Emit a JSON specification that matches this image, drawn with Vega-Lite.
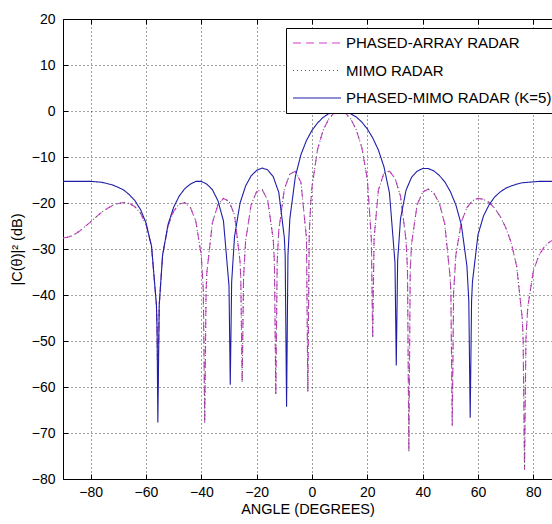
{
  "$schema": "https://vega.github.io/schema/vega-lite/v6.json",
  "width": 489,
  "height": 460,
  "autosize": {"type": "none"},
  "padding": {"left": 63, "top": 19, "right": 0, "bottom": 45},
  "background": "white",
  "config": {
    "view": {"stroke": "black", "strokeWidth": 1},
    "font": "Liberation Sans",
    "axis": {"labelFont": "Liberation Sans", "labelFontSize": 14, "labelColor": "black", "titleFont": "Liberation Sans", "titleFontSize": 14.5, "titleFontWeight": "normal", "titleColor": "black", "gridColor": "black", "gridDash": [1, 3], "gridOpacity": 0.75, "gridWidth": 1, "tickColor": "black", "domain": false, "labelOverlap": false, "labelFlush": false}
  },
  "data": {"values": [
    {"a": -90, "pa": -27.6, "mimo": -27.6, "pm": -15.3},
    {"a": -88, "pa": -27.4, "mimo": -27.4, "pm": -15.3},
    {"a": -86, "pa": -26.9, "mimo": -26.9, "pm": -15.3},
    {"a": -84, "pa": -26.1, "mimo": -26.1, "pm": -15.3},
    {"a": -82, "pa": -25.1, "mimo": -25.1, "pm": -15.3},
    {"a": -80, "pa": -24.1, "mimo": -24.1, "pm": -15.3},
    {"a": -78, "pa": -23.0, "mimo": -23.0, "pm": -15.4},
    {"a": -76, "pa": -22.0, "mimo": -22.0, "pm": -15.5},
    {"a": -74, "pa": -21.2, "mimo": -21.2, "pm": -15.8},
    {"a": -72, "pa": -20.5, "mimo": -20.5, "pm": -16.1},
    {"a": -70, "pa": -20.1, "mimo": -20.1, "pm": -16.6},
    {"a": -68, "pa": -19.9, "mimo": -19.9, "pm": -17.2},
    {"a": -66, "pa": -20.1, "mimo": -20.1, "pm": -18.2},
    {"a": -64, "pa": -20.8, "mimo": -20.8, "pm": -19.5},
    {"a": -62, "pa": -22.2, "mimo": -22.2, "pm": -21.4},
    {"a": -60, "pa": -24.7, "mimo": -24.7, "pm": -24.3},
    {"a": -58, "pa": -29.5, "mimo": -29.5, "pm": -29.4},
    {"a": -56.22, "pa": -42.2, "mimo": -42.2, "pm": -42.2},
    {"a": -56, "pa": -47.5, "mimo": -47.5, "pm": -47.5},
    {"a": -55.72, "pa": -60.0, "mimo": -60.0, "pm": -67.7},
    {"a": -55.22, "pa": -42.2, "mimo": -42.2, "pm": -42.2},
    {"a": -54, "pa": -31.4, "mimo": -31.4, "pm": -31.3},
    {"a": -52, "pa": -24.9, "mimo": -24.9, "pm": -24.6},
    {"a": -50, "pa": -21.8, "mimo": -21.8, "pm": -20.9},
    {"a": -48, "pa": -20.2, "mimo": -20.2, "pm": -18.5},
    {"a": -46, "pa": -19.9, "mimo": -19.9, "pm": -16.9},
    {"a": -44, "pa": -20.9, "mimo": -20.9, "pm": -15.9},
    {"a": -42, "pa": -23.9, "mimo": -23.9, "pm": -15.3},
    {"a": -40, "pa": -31.5, "mimo": -31.5, "pm": -15.3},
    {"a": -39.28, "pa": -39.0, "mimo": -39.0},
    {"a": -38.78, "pa": -67.8, "mimo": -67.8},
    {"a": -38.28, "pa": -39.0, "mimo": -39.0},
    {"a": -38, "pa": -35.1, "mimo": -35.1, "pm": -15.9},
    {"a": -36, "pa": -24.3, "mimo": -24.3, "pm": -17.1},
    {"a": -34, "pa": -20.4, "mimo": -20.4, "pm": -19.5},
    {"a": -32, "pa": -19.0, "mimo": -19.0, "pm": -23.9},
    {"a": -30, "pa": -19.6, "mimo": -19.6, "pm": -38.0},
    {"a": -29.54, "pm": -59.5},
    {"a": -29.04, "pm": -37.2},
    {"a": -28, "pa": -22.6, "mimo": -22.6, "pm": -27.3},
    {"a": -26, "pa": -32.8, "mimo": -32.8, "pm": -20.0},
    {"a": -25.74, "pa": -36.3, "mimo": -36.3},
    {"a": -25.24, "pa": -59.0, "mimo": -59.0},
    {"a": -24.74, "pa": -36.3, "mimo": -36.3},
    {"a": -24, "pa": -28.3, "mimo": -28.3, "pm": -16.3},
    {"a": -22, "pa": -20.4, "mimo": -20.4, "pm": -14.1},
    {"a": -20, "pa": -17.5, "mimo": -17.5, "pm": -12.9},
    {"a": -18, "pa": -17.1, "mimo": -17.1, "pm": -12.4},
    {"a": -16, "pa": -19.4, "mimo": -19.4, "pm": -12.8},
    {"a": -14, "pa": -28.0, "mimo": -28.0, "pm": -14.3},
    {"a": -13.58, "pa": -32.9, "mimo": -32.9},
    {"a": -13.08, "pa": -61.7, "mimo": -61.7},
    {"a": -12.58, "pa": -32.9, "mimo": -32.9},
    {"a": -12, "pa": -25.9, "mimo": -25.9, "pm": -17.7},
    {"a": -10, "pa": -17.0, "mimo": -17.0, "pm": -27.5},
    {"a": -9.69, "pm": -31.4},
    {"a": -9.19, "pm": -64.3},
    {"a": -8.69, "pm": -31.4},
    {"a": -8, "pa": -13.7, "mimo": -13.7, "pm": -23.4},
    {"a": -6, "pa": -13.1, "mimo": -13.1, "pm": -14.2},
    {"a": -4, "pa": -15.5, "mimo": -15.5, "pm": -9.5},
    {"a": -2, "pa": -27.6, "mimo": -27.6, "pm": -6.4},
    {"a": -1.51, "pa": -61.0, "mimo": -61.0},
    {"a": -1.01, "pa": -27.1, "mimo": -27.1},
    {"a": -0.5, "pa": -20.3, "mimo": -20.3},
    {"a": 0, "pa": -16.5, "mimo": -16.5, "pm": -4.2},
    {"a": 2, "pa": -8.4, "mimo": -8.4, "pm": -2.6},
    {"a": 4, "pa": -4.2, "mimo": -4.2, "pm": -1.4},
    {"a": 6, "pa": -1.8, "mimo": -1.8, "pm": -0.6},
    {"a": 8, "pa": -0.4, "mimo": -0.4, "pm": -0.2},
    {"a": 10, "pa": 0, "mimo": 0, "pm": 0},
    {"a": 12, "pa": -0.4, "mimo": -0.4, "pm": -0.2},
    {"a": 14, "pa": -1.7, "mimo": -1.7, "pm": -0.6},
    {"a": 16, "pa": -4.1, "mimo": -4.1, "pm": -1.3},
    {"a": 18, "pa": -7.9, "mimo": -7.9, "pm": -2.4},
    {"a": 20, "pa": -14.8, "mimo": -14.8, "pm": -3.9},
    {"a": 21.44, "pa": -27.7, "mimo": -27.7},
    {"a": 21.94, "pa": -49.3, "mimo": -49.3},
    {"a": 22, "pa": -46.3, "mimo": -46.3, "pm": -5.9},
    {"a": 22.44, "pa": -27.7, "mimo": -27.7},
    {"a": 24, "pa": -17.2, "mimo": -17.2, "pm": -8.5},
    {"a": 26, "pa": -13.5, "mimo": -13.5, "pm": -12.1},
    {"a": 28, "pa": -13.1, "mimo": -13.1, "pm": -17.8},
    {"a": 30, "pa": -14.6, "mimo": -14.6, "pm": -33.0},
    {"a": 30.46, "pm": -55.3},
    {"a": 30.96, "pm": -32.5},
    {"a": 32, "pa": -18.5, "mimo": -18.5, "pm": -23.4},
    {"a": 34, "pa": -28.1, "mimo": -28.1, "pm": -17.2},
    {"a": 34.51, "pa": -34.4, "mimo": -34.4},
    {"a": 35.01, "pa": -74.0, "mimo": -74.0},
    {"a": 35.51, "pa": -34.4, "mimo": -34.4},
    {"a": 36, "pa": -28.8, "mimo": -28.8, "pm": -14.4},
    {"a": 38, "pa": -20.4, "mimo": -20.4, "pm": -13.1},
    {"a": 40, "pa": -17.6, "mimo": -17.6, "pm": -12.5},
    {"a": 42, "pa": -17.0, "mimo": -17.0, "pm": -12.5},
    {"a": 44, "pa": -17.8, "mimo": -17.8, "pm": -13.0},
    {"a": 46, "pa": -20.0, "mimo": -20.0, "pm": -14.0},
    {"a": 48, "pa": -24.6, "mimo": -24.6, "pm": -15.4},
    {"a": 50, "pa": -36.6, "mimo": -36.6, "pm": -17.5},
    {"a": 50.19, "pa": -39.4, "mimo": -39.4},
    {"a": 50.69, "pa": -68.5, "mimo": -68.5},
    {"a": 51.19, "pa": -39.4, "mimo": -39.4},
    {"a": 52, "pa": -31.3, "mimo": -31.3, "pm": -20.4},
    {"a": 54, "pa": -24.1, "mimo": -24.1, "pm": -24.8},
    {"a": 56, "pa": -21.0, "mimo": -21.0, "pm": -33.7},
    {"a": 56.68, "pm": -41.3},
    {"a": 57.18, "pm": -66.7},
    {"a": 57.68, "pm": -41.3},
    {"a": 58, "pa": -19.5, "mimo": -19.5, "pm": -37.1},
    {"a": 60, "pa": -19.0, "mimo": -19.0, "pm": -26.9},
    {"a": 62, "pa": -19.2, "mimo": -19.2, "pm": -22.8},
    {"a": 64, "pa": -19.9, "mimo": -19.9, "pm": -20.4},
    {"a": 66, "pa": -21.1, "mimo": -21.1, "pm": -18.7},
    {"a": 68, "pa": -22.9, "mimo": -22.9, "pm": -17.6},
    {"a": 70, "pa": -25.3, "mimo": -25.3, "pm": -16.8},
    {"a": 72, "pa": -28.6, "mimo": -28.6, "pm": -16.3},
    {"a": 74, "pa": -33.8, "mimo": -33.8, "pm": -15.9},
    {"a": 76, "pa": -45.1, "mimo": -45.1, "pm": -15.6},
    {"a": 76.32, "pa": -49.7, "mimo": -49.7},
    {"a": 76.82, "pa": -78.0, "mimo": -78.0},
    {"a": 77.32, "pa": -49.7, "mimo": -49.7},
    {"a": 78, "pa": -42.6, "mimo": -42.6, "pm": -15.5},
    {"a": 80, "pa": -34.8, "mimo": -34.8, "pm": -15.4},
    {"a": 82, "pa": -31.4, "mimo": -31.4, "pm": -15.3},
    {"a": 84, "pa": -29.5, "mimo": -29.5, "pm": -15.3},
    {"a": 86, "pa": -28.4, "mimo": -28.4, "pm": -15.3},
    {"a": 88, "pa": -27.8, "mimo": -27.8, "pm": -15.3},
    {"a": 90, "pa": -27.6, "mimo": -27.6, "pm": -15.3}
  ]},
  "layer": [
    {
      "transform": [
        {"fold": ["pa", "mimo", "pm"], "as": ["key", "db"]},
        {"filter": "isValid(datum.db)"}
      ],
      "mark": {"type": "line", "clip": true, "strokeWidth": 1.1},
      "encoding": {
        "x": {"field": "a", "type": "quantitative", "scale": {"domain": [-90, 86.75], "nice": false, "zero": false},
          "axis": {"values": [-80, -60, -40, -20, 0, 20, 40, 60, 80], "grid": true, "ticks": true, "tickSize": -5, "tickWidth": 1, "labelPadding": 11, "title": "ANGLE (DEGREES)", "titlePadding": 3}},
        "y": {"field": "db", "type": "quantitative", "scale": {"domain": [-80, 20], "nice": false, "zero": false},
          "axis": {"values": [-80, -70, -60, -50, -40, -30, -20, -10, 0, 10, 20], "grid": true, "ticks": true, "tickSize": -5, "tickWidth": 1, "labelPadding": 13, "title": "|C(θ)|² (dB)", "titlePadding": 7}},
        "color": {"field": "key", "type": "nominal", "scale": {"domain": ["pa", "mimo", "pm"], "range": ["#d43cd4", "#5a5a5a", "#1e1ea8"]},
          "legend": {"title": null, "orient": "none", "legendX": 223, "legendY": 9, "symbolType": "stroke", "symbolSize": 2304, "symbolStrokeWidth": 1.2, "labelFont": "Liberation Sans", "labelFontSize": 15, "labelColor": "black", "labelOffset": 4, "padding": 6, "rowPadding": 9.5, "clipHeight": 18, "strokeColor": "black", "fillColor": "white", "labelLimit": 400,
            "labelExpr": "datum.label == 'pa' ? 'PHASED-ARRAY RADAR' : datum.label == 'mimo' ? 'MIMO RADAR' : 'PHASED-MIMO RADAR (K=5)'"}},
        "strokeDash": {"field": "key", "type": "nominal", "scale": {"domain": ["pa", "mimo", "pm"], "range": [[8, 5], [1, 3], [1, 0]]},
          "legend": {"title": null, "orient": "none", "legendX": 223, "legendY": 9, "symbolType": "stroke", "symbolSize": 2304, "symbolStrokeWidth": 1.2, "labelFont": "Liberation Sans", "labelFontSize": 15, "labelColor": "black", "labelOffset": 4, "padding": 6, "rowPadding": 9.5, "clipHeight": 18, "strokeColor": "black", "fillColor": "white", "labelLimit": 400,
            "labelExpr": "datum.label == 'pa' ? 'PHASED-ARRAY RADAR' : datum.label == 'mimo' ? 'MIMO RADAR' : 'PHASED-MIMO RADAR (K=5)'"}}
      }
    },
    {
      "mark": {"type": "point", "opacity": 0},
      "encoding": {
        "x": {"field": "a", "type": "quantitative", "scale": {"domain": [-90, 86.75], "nice": false, "zero": false},
          "axis": {"orient": "top", "values": [-80, -60, -40, -20, 0, 20, 40, 60, 80], "labels": false, "grid": false, "ticks": true, "tickSize": -5, "tickWidth": 1, "title": null}},
        "y": {"field": "pm", "type": "quantitative", "scale": {"domain": [-80, 20], "nice": false, "zero": false}, "axis": null}
      }
    }
  ],
  "resolve": {"axis": {"x": "independent", "y": "independent"}}
}
